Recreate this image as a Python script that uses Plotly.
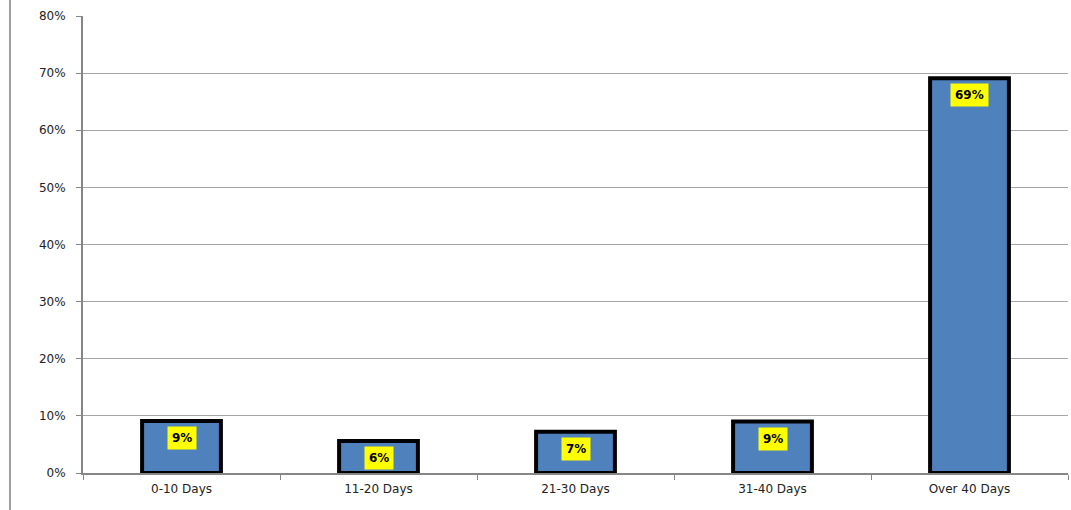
import plotly.graph_objects as go

categories = ["0-10 Days", "11-20 Days", "21-30 Days", "31-40 Days", "Over 40 Days"]
values = [0.091, 0.056, 0.072, 0.090, 0.691]
labels = ["9%", "6%", "7%", "9%", "69%"]
y_ticks = [0, 0.1, 0.2, 0.3, 0.4, 0.5, 0.6, 0.7, 0.8]
y_tick_text = ["0%", "10%", "20%", "30%", "40%", "50%", "60%", "70%", "80%"]

font_family = "DejaVu Sans, Verdana, sans-serif"

fig = go.Figure()
fig.add_trace(go.Bar(
    x=categories,
    y=values,
    marker=dict(color="#4F81BD", line=dict(color="#000000", width=4)),
    width=0.4,
    hoverinfo="skip",
))

for c, v, t in zip(categories, values, labels):
    fig.add_annotation(
        x=c, y=v, text="<b>" + t + "</b>",
        showarrow=False, yanchor="top", yshift=-5,
        bgcolor="#FFFF00", borderpad=4,
        font=dict(family=font_family, size=12, color="#000000"),
    )

fig.update_layout(
    width=1071, height=510,
    margin=dict(l=83, r=3, t=16, b=37),
    paper_bgcolor="white", plot_bgcolor="white",
    showlegend=False,
    font=dict(family=font_family, size=12, color="#222222"),
    xaxis=dict(
        automargin=False,
        showline=True, linecolor="#868686", linewidth=2,
        ticks="outside", tickson="boundaries", ticklen=5, tickcolor="#868686",
        tickfont=dict(size=12, color="#222222"),
        ticklabelstandoff=4,
        showgrid=False,
    ),
    yaxis=dict(
        automargin=False,
        range=[0, 0.8],
        tickvals=y_ticks, ticktext=y_tick_text,
        showline=True, linecolor="#868686", linewidth=2,
        ticks="outside", ticklen=5, tickcolor="#868686",
        ticklabelstandoff=8,
        showgrid=True, gridcolor="#A6A6A6", gridwidth=1,
        tickfont=dict(size=12, color="#222222"),
        zeroline=False,
    ),
    shapes=[dict(
        type="line", xref="paper", yref="paper",
        x0=-73 / 985, x1=-73 / 985, y0=-37 / 457, y1=1 + 16 / 457,
        line=dict(color="#A0A0A0", width=2),
    )],
)

fig.write_html(
    "out.html",
    config={"displayModeBar": False, "responsive": False},
    post_script="document.body.style.margin='0';document.body.style.overflow='hidden';",
)
